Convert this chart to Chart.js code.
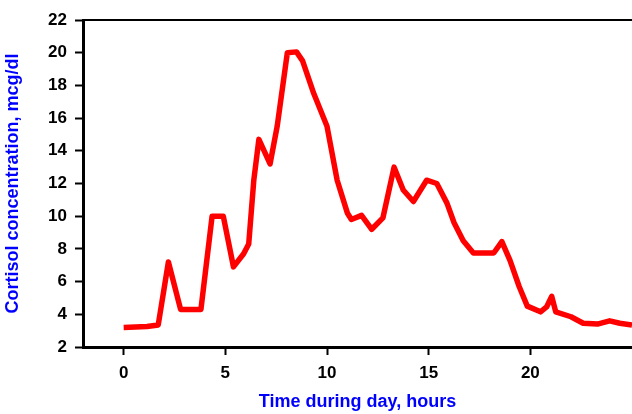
<!DOCTYPE html>
<html>
<head>
<meta charset="utf-8">
<script src="https://cdn.jsdelivr.net/npm/chart.js@4/dist/chart.umd.min.js"></script>
<style>
html,body{margin:0;padding:0;background:#fff;overflow:hidden;}
#wrap{width:632px;height:414px;position:relative;}
</style>
</head>
<body>
<div id="wrap"><canvas id="c"></canvas></div>
<script>
// Time during day (hours)
const hours = [0, 1.15, 1.7, 2.2, 2.8, 3.8, 4.35, 4.9, 5.4, 5.9, 6.15, 6.4, 6.65, 7.2, 7.55, 8.05, 8.5, 8.8, 9.35, 10.0, 10.5, 11.0, 11.2, 11.7, 12.2, 12.75, 13.3, 13.75, 14.25, 14.9, 15.4, 15.9, 16.25, 16.7, 17.2, 18.2, 18.6, 19.0, 19.45, 19.85, 20.5, 20.8, 21.05, 21.25, 22.0, 22.6, 23.3, 23.9, 24.4, 25.0];
// Cortisol concentration (mcg/dl)
const cortisol = [3.2, 3.25, 3.35, 7.2, 4.3, 4.3, 10.0, 10.0, 6.9, 7.7, 8.3, 12.2, 14.7, 13.2, 15.5, 20.0, 20.05, 19.5, 17.5, 15.5, 12.2, 10.2, 9.8, 10.05, 9.2, 9.9, 13.0, 11.6, 10.9, 12.2, 12.0, 10.8, 9.6, 8.5, 7.75, 7.75, 8.45, 7.3, 5.7, 4.5, 4.15, 4.45, 5.1, 4.15, 3.85, 3.45, 3.4, 3.6, 3.45, 3.35];
const xTicks = [0, 5, 10, 15, 20];
const yTicks = [2, 4, 6, 8, 10, 12, 14, 16, 18, 20, 22];
const xTitle = 'Time during day, hours';
const yTitle = 'Cortisol concentration, mcg/dl';

const points = hours.map((h, i) => ({x: h, y: cortisol[i]}));
const tickFont = {family: 'Liberation Sans', size: 17, weight: 'bold'};
const titleFont = {family: 'Liberation Sans', size: 18, weight: 'bold'};

new Chart(document.getElementById('c'), {
  type: 'line',
  data: {
    datasets: [{
      data: points,
      borderColor: '#ff0000',
      borderWidth: 5.5,
      pointRadius: 0,
      tension: 0,
      borderJoinStyle: 'round',
      borderCapStyle: 'butt',
      fill: false
    }]
  },
  options: {
    responsive: true,
    maintainAspectRatio: false,
    animation: false,
    layout: {padding: {top: 20, right: 0, left: 0, bottom: 0}},
    plugins: {legend: {display: false}, tooltip: {enabled: false}},
    scales: {
      x: {
        type: 'linear',
        position: 'bottom',
        min: -2, max: 25,
        afterBuildTicks: s => { s.ticks = xTicks.map(v => ({value: v})); },
        afterFit: s => { s.height = 67; },
        ticks: {color: '#000', font: tickFont, padding: 8, maxRotation: 0, autoSkip: false},
        grid: {display: true, drawOnChartArea: false, drawTicks: true, tickLength: 8, tickWidth: 2, tickColor: '#000'},
        border: {display: true, color: '#000', width: 3},
        title: {display: true, text: xTitle, color: '#0000ff', font: titleFont, padding: {top: 0, bottom: 1}}
      },
      xTop: {
        type: 'linear',
        position: 'top',
        min: -2, max: 25,
        afterFit: s => { s.height = 0; },
        ticks: {display: false},
        grid: {display: false, drawTicks: false},
        border: {display: true, color: '#000', width: 2}
      },
      y: {
        min: 2, max: 22,
        afterBuildTicks: s => { s.ticks = yTicks.map(v => ({value: v})); },
        afterFit: s => { s.width = 83; },
        ticks: {color: '#000', font: tickFont, padding: 8, autoSkip: false},
        grid: {display: true, drawOnChartArea: false, drawTicks: true, tickLength: 8, tickWidth: 2, tickColor: '#000'},
        border: {display: true, color: '#000', width: 3},
        title: {display: true, text: yTitle, color: '#0000ff', font: titleFont, padding: {top: 2, bottom: 0}}
      }
    }
  }
});
</script>
</body>
</html>
